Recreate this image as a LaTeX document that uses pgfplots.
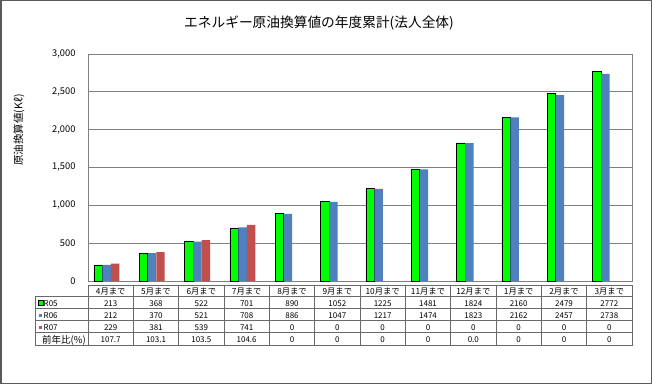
\documentclass[border=0pt]{standalone}
\usepackage{fontspec}
\setmainfont{Noto Sans CJK JP}
\usepackage{pgfplots}
\pgfplotsset{compat=1.18}
\definecolor{cgreen}{RGB}{0,255,0}
\definecolor{cblue}{RGB}{79,129,189}
\definecolor{cred}{RGB}{192,80,77}
\definecolor{cgrid}{RGB}{128,128,128}
\definecolor{cline}{RGB}{105,105,105}
\definecolor{cframe}{RGB}{90,90,90}
\def\rowA{213,368,522,701,890,1052,1225,1481,1824,2160,2479,2772}
\def\rowB{212,370,521,708,886,1047,1217,1474,1823,2162,2457,2738}
\def\rowC{229,381,539,741,0,0,0,0,0,0,0,0}
\def\rowD{107.7,103.1,103.5,104.6,0,0,0,0,0.0,0,0,0}
\begin{document}
\begin{tikzpicture}[x=1pt,y=1pt]
\useasboundingbox (0,0) rectangle (652,384);
\fill[white] (0,0) rectangle (652,384);
\begin{axis}[at={(88pt,103pt)}, anchor=south west, scale only axis,
  width=544pt, height=227pt,
  xmin=-0.5, xmax=11.5, ymin=0, ymax=3000,
  xtick={0,...,11},
  xticklabels={4月まで,5月まで,6月まで,7月まで,8月まで,9月まで,10月まで,11月まで,12月まで,1月まで,2月まで,3月まで},
  xticklabel style={font=\fontsize{8.3}{9}\selectfont, anchor=base, yshift=-13.5pt},
  ytick={0,500,...,3000},
  yticklabel style={font=\fontsize{9.3}{10}\selectfont, xshift=-9pt},
  /pgf/number format/.cd, 1000 sep={,}, assume math mode=true, /pgfplots/.cd,
  ymajorgrids, grid style={cgrid, line width=0.75pt},
  axis line style={cgrid, line width=0.75pt},
  major tick length=0pt,
  axis on top=false,
]
\addplot[ybar, bar width=8.4pt, bar shift=-12.5pt, fill=cgreen, draw=black, line width=0.7pt]
  coordinates {(0,213) (1,368) (2,522) (3,701) (4,890) (5,1052) (6,1225) (7,1481) (8,1824) (9,2160) (10,2479) (11,2772)};
\addplot[ybar, bar width=8.4pt, bar shift=-4pt, fill=cblue, draw=none]
  coordinates {(0,212) (1,370) (2,521) (3,708) (4,886) (5,1047) (6,1217) (7,1474) (8,1823) (9,2162) (10,2457) (11,2738)};
\addplot[ybar, bar width=8.4pt, bar shift=4.5pt, fill=cred, draw=none]
  coordinates {(0,229) (1,381) (2,539) (3,741)};
\end{axis}
% title and y label
\node[font=\fontsize{13.7}{15}\selectfont] at (319,{384-22.7}) {エネルギー原油換算値の年度累計(法人全体)};
\node[rotate=90, font=\fontsize{10.5}{12}\selectfont] at (19,{384-130}) {原油換算値(Kℓ)};
% data table
\draw[cline, line width=0.75pt] (88,{384-285}) rectangle (632,{384-345.5});
\draw[cline, line width=0.75pt] (35,{384-296.5}) rectangle (88,{384-345.5});
\foreach \yy in {296.5,308.5,320.5,332.5} {
  \draw[cline, line width=0.75pt] (35,{384-\yy}) -- (632,{384-\yy});
}
\foreach \k in {1,...,11} {
  \draw[cline, line width=0.75pt] ({88+45.333*\k},{384-285}) -- ({88+45.333*\k},{384-345.5});
}
\filldraw[fill=cgreen, draw=black, line width=0.6pt] (38,{384-305}) rectangle (43,{384-300});
\fill[cblue] (38.5,{384-316.5}) rectangle (41.5,{384-313.5});
\fill[cred] (38.5,{384-328.5}) rectangle (41.5,{384-325.5});
\tikzset{tf/.style={font=\fontsize{8}{9}\selectfont, inner sep=0pt}}
\node[tf, anchor=base west] at (43.5,{384-306}) {R05};
\node[tf, anchor=base west] at (43.5,{384-318}) {R06};
\node[tf, anchor=base west] at (43.5,{384-330}) {R07};
\node[tf, anchor=base, font=\fontsize{9.5}{10}\selectfont] at (64,{384-343}) {前年比(\%)};
\foreach \v [count=\i from 0] in \rowA {\node[tf, anchor=base] at ({88+45.333*(\i+0.5)},{384-306}) {\v};}
\foreach \v [count=\i from 0] in \rowB {\node[tf, anchor=base] at ({88+45.333*(\i+0.5)},{384-318}) {\v};}
\foreach \v [count=\i from 0] in \rowC {\node[tf, anchor=base] at ({88+45.333*(\i+0.5)},{384-330}) {\v};}
\foreach \v [count=\i from 0] in \rowD {\node[tf, anchor=base] at ({88+45.333*(\i+0.5)},{384-342.5}) {\v};}
% outer frame
\draw[cframe, line width=1.5pt] (0.75,0.75) rectangle (651.25,383.25);
\end{tikzpicture}
\end{document}
